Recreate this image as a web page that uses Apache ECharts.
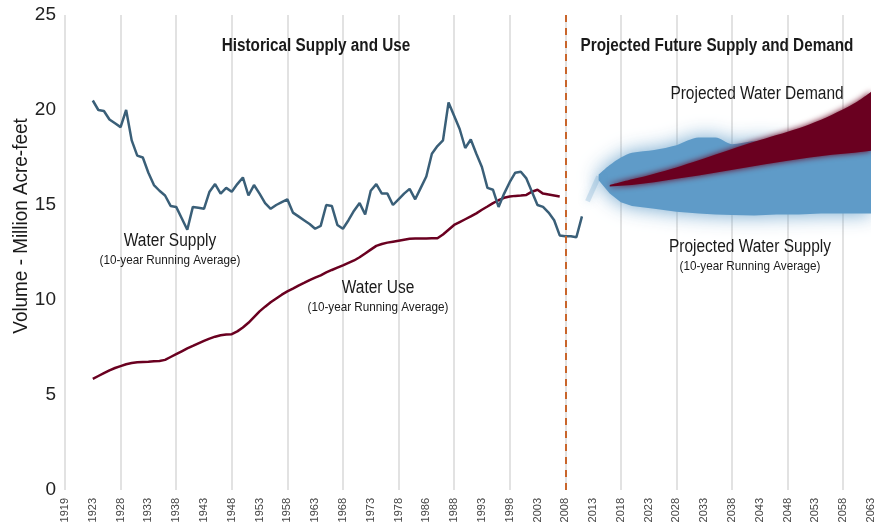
<!DOCTYPE html>
<html>
<head>
<meta charset="utf-8">
<script src="https://cdn.jsdelivr.net/npm/echarts@6/dist/echarts.min.js"></script>
<style>
  html, body { margin: 0; padding: 0; background: #fff; }
  #main { width: 874px; height: 524px; }
</style>
</head>
<body>
<div id="main"></div>
<script>
// 横轴: 每年一个类目, 每5格显示一个标签
const firstYear = 1918;
const lastYear = 2063;
const tickLabels = ["1919", "1923", "1928", "1933", "1938", "1943", "1948", "1953", "1958", "1963",
  "1968", "1973", "1978", "1986", "1988", "1993", "1998", "2003", "2008", "2013",
  "2018", "2023", "2028", "2033", "2038", "2043", "2048", "2053", "2058", "2063"];

// 历史供水 (10年滑动平均), 1923 起
const supplyStart = 1923;
const supplyValues = [20.5, 20.0, 19.95, 19.5, 19.3, 19.1, 20.0, 18.4, 17.6, 17.5,
  16.7, 16.05, 15.75, 15.5, 14.95, 14.9, 14.3, 13.7, 14.9, 14.85,
  14.8, 15.7, 16.1, 15.6, 15.9, 15.7, 16.1, 16.45, 15.5, 16.05,
  15.6, 15.1, 14.8, 15.0, 15.15, 15.3, 14.6, 14.4, 14.2, 14.0,
  13.75, 13.9, 15.0, 14.95, 13.95, 13.75, 14.2, 14.7, 15.1, 14.5,
  15.75, 16.1, 15.6, 15.6, 15.0, 15.3, 15.6, 15.85, 15.3, 15.9,
  16.5, 17.7, 18.1, 18.4, 20.4, 19.7, 19.0, 18.0, 18.45, 17.7,
  17.0, 15.9, 15.8, 14.9, 15.6, 16.2, 16.7, 16.75, 16.4, 15.7,
  15.0, 14.9, 14.6, 14.2, 13.4, 13.35, 13.35, 13.3, 14.4];

// 历史用水 (10年滑动平均), 1923 起
const useStart = 1923;
const useValues = [5.85, 6.0, 6.15, 6.3, 6.42, 6.52, 6.62, 6.68, 6.72, 6.74,
  6.75, 6.77, 6.79, 6.85, 7.0, 7.15, 7.3, 7.45, 7.58, 7.72,
  7.85, 7.97, 8.07, 8.14, 8.18, 8.2, 8.35, 8.55, 8.8, 9.1,
  9.4, 9.65, 9.88, 10.08, 10.28, 10.45, 10.6, 10.76, 10.9, 11.05,
  11.18, 11.3, 11.45, 11.58, 11.7, 11.82, 11.95, 12.08, 12.25, 12.45,
  12.65, 12.85, 12.95, 13.02, 13.07, 13.12, 13.17, 13.22, 13.24, 13.24,
  13.24, 13.25, 13.25, 13.45, 13.7, 13.95, 14.1, 14.25, 14.4, 14.56,
  14.75, 14.92, 15.1, 15.25, 15.38, 15.45, 15.48, 15.5, 15.53, 15.7,
  15.8, 15.6, 15.55, 15.5, 15.45];

// 预测供水范围
const projSupplyYears = ["2014", "2016", "2018", "2020", "2024", "2028", "2032", "2035",
  "2038", "2042", "2046", "2050", "2054", "2058", "2063"];
const projSupplyLow = [16.3, 15.6, 15.15, 14.95, 14.8, 14.65, 14.55, 14.5,
  14.47, 14.45, 14.5, 14.5, 14.55, 14.55, 14.55];
const projSupplyHigh = [16.6, 17.1, 17.5, 17.75, 17.9, 18.15, 18.55, 18.55,
  18.2, 18.35, 18.3, 18.2, 18.2, 18.3, 18.4];

// 预测需水范围
const projDemandYears = ["2016", "2020", "2024", "2028", "2032", "2036", "2040",
  "2044", "2048", "2052", "2056", "2060", "2063"];
const projDemandLow = [15.98, 16.05, 16.2, 16.38, 16.55, 16.75, 16.95,
  17.15, 17.33, 17.5, 17.65, 17.75, 17.85];
const projDemandHigh = [16.05, 16.35, 16.65, 16.98, 17.35, 17.75, 18.15,
  18.5, 18.85, 19.25, 19.75, 20.35, 20.95];

// 历史线和预测带之间的淡色连接
const linkYears = ["2012", "2014"];
const linkValues = [15.2, 16.5];

const splitYear = "2008";

const years = [];
for (let y = firstYear; y <= lastYear; y++) years.push(String(y));

const toPairs = (start, values) => values.map((v, i) => [String(start + i), v]);
const zip = (xs, ys) => xs.map((x, i) => [x, ys[i]]);
const diff = (xs, hi, lo) => xs.map((x, i) => [x, +(hi[i] - lo[i]).toFixed(3)]);

const blue = "#5f9bc8";
const darkRed = "#6a0020";
const font = "'Liberation Sans', Arial, sans-serif";

var myChart = echarts.init(document.getElementById("main"));

// 文字标注 (横向压缩模拟窄体字)
const makeText = (text, x, y, size, bold, sx) => ({
  type: "text",
  x: x,
  y: y,
  z: 100,
  scaleX: sx,
  style: {
    text: text,
    fill: "#1a1a1a",
    font: (bold ? "bold " : "") + size + "px " + font,
    textAlign: "center",
    textVerticalAlign: "middle",
  },
});

var option = {
  animation: false,
  backgroundColor: "#fff",
  grid: { left: 65, right: 3, top: 15, bottom: 34, outerBoundsMode: "none" },
  xAxis: {
    type: "category",
    data: years,
    boundaryGap: false,
    axisLine: { show: false },
    axisTick: { show: false },
    axisLabel: {
      interval: (i) => i % 5 === 0,
      formatter: (val, i) => tickLabels[i / 5],
      rotate: 90,
      fontSize: 11,
      color: "#444",
      margin: 8,
      fontFamily: "Liberation Sans",
    },
    splitLine: {
      show: true,
      interval: (i) => i % 10 === 0 && i < 145,
      lineStyle: { color: "#e2e2e2", width: 2 },
    },
  },
  yAxis: {
    type: "value",
    min: 0,
    max: 25,
    interval: 5,
    axisLine: { show: false },
    axisTick: { show: false },
    splitLine: { show: false },
    axisLabel: { fontSize: 19, color: "#222", margin: 9, fontFamily: "Liberation Sans" },
  },
  graphic: [
    {
      type: "text",
      x: 21,
      y: 226,
      z: 100,
      rotation: Math.PI / 2,
      scaleX: 0.9,
      style: {
        text: "Volume - Million Acre-feet",
        fill: "#1a1a1a",
        font: "21px " + font,
        textAlign: "center",
        textVerticalAlign: "middle",
      },
    },
    makeText("Historical Supply and Use", 316, 46, 18, true, 0.85),
    makeText("Projected Future Supply and Demand", 717, 46, 18, true, 0.85),
    makeText("Projected Water Demand", 757, 94, 18, false, 0.86),
    makeText("Projected Water Supply", 750, 247, 18, false, 0.86),
    makeText("(10-year Running Average)", 750, 266, 13, false, 0.9),
    makeText("Water Supply", 170, 241, 18, false, 0.86),
    makeText("(10-year Running Average)", 170, 260, 13, false, 0.9),
    makeText("Water Use", 378, 288, 18, false, 0.86),
    makeText("(10-year Running Average)", 378, 307, 13, false, 0.9),
  ],
  series: [
    // 预测供水带
    {
      type: "line",
      stack: "supply",
      data: zip(projSupplyYears, projSupplyLow),
      symbol: "none",
      lineStyle: { opacity: 0 },
    },
    {
      type: "line",
      stack: "supply",
      data: diff(projSupplyYears, projSupplyHigh, projSupplyLow),
      symbol: "none",
      smooth: 0.3,
      lineStyle: { width: 0, opacity: 0 },
      areaStyle: { color: blue, opacity: 1, shadowBlur: 20, shadowColor: "rgba(95,155,200,0.9)" },
    },
    // 预测需水带
    {
      type: "line",
      stack: "demand",
      data: zip(projDemandYears, projDemandLow),
      symbol: "none",
      lineStyle: { opacity: 0 },
    },
    {
      type: "line",
      stack: "demand",
      data: diff(projDemandYears, projDemandHigh, projDemandLow),
      symbol: "none",
      smooth: 0.3,
      lineStyle: { width: 0, opacity: 0 },
      areaStyle: { color: darkRed, opacity: 1, shadowBlur: 6, shadowColor: darkRed },
    },
    // 连接段
    {
      type: "line",
      data: zip(linkYears, linkValues),
      symbol: "none",
      lineStyle: { color: "rgba(95,155,200,0.25)", width: 5, shadowBlur: 8, shadowColor: blue },
    },
    // 历史用水
    {
      type: "line",
      data: toPairs(useStart, useValues),
      symbol: "none",
      lineStyle: { color: darkRed, width: 2.5 },
    },
    // 历史供水
    {
      type: "line",
      data: toPairs(supplyStart, supplyValues),
      symbol: "none",
      lineStyle: { color: "#3a5f78", width: 2.5 },
      markLine: {
        silent: true,
        symbol: ["none", "none"],
        label: { show: false },
        lineStyle: { color: "#c9652b", type: [7, 6], width: 2 },
        data: [{ xAxis: splitYear }],
      },
    },
  ],
};

myChart.setOption(option);
</script>
</body>
</html>
